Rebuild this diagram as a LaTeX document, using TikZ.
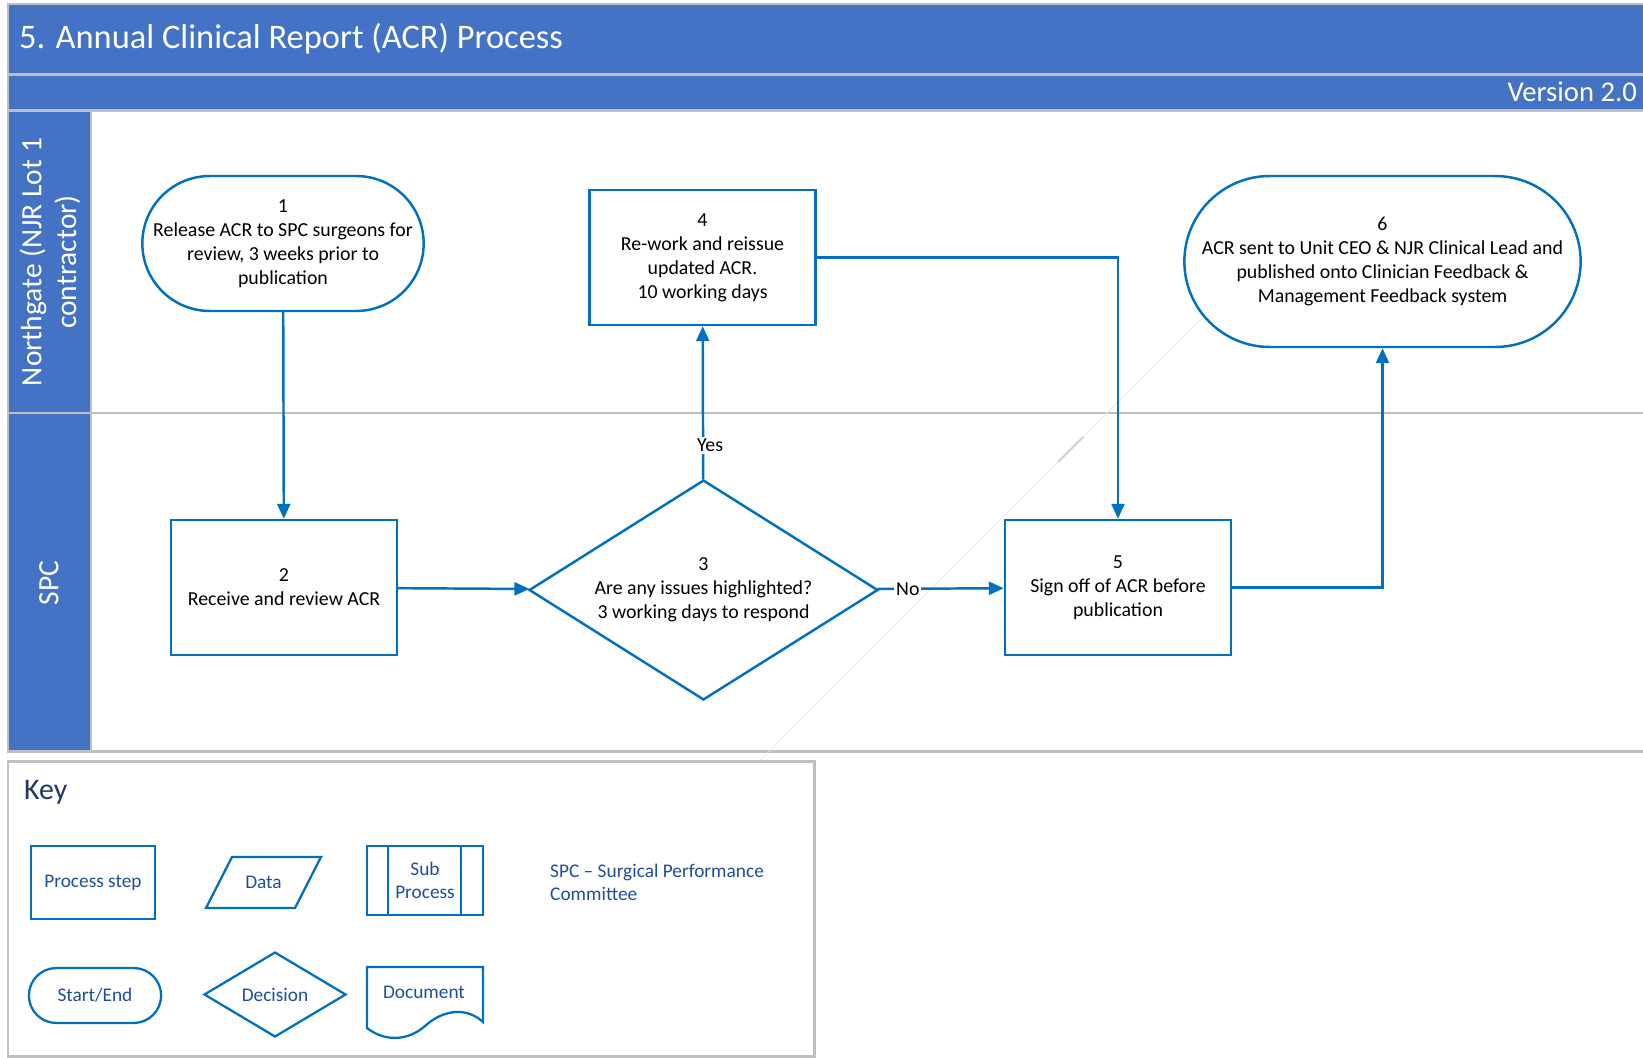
\documentclass[tikz,border=0pt]{standalone}
\usepackage{fontspec}
\setmainfont{Carlito}
\usepackage{tikz}
\usetikzlibrary{arrows.meta,shapes,positioning}
\definecolor{hdr}{RGB}{68,114,196}
\definecolor{flow}{RGB}{0,112,192}
\definecolor{grid}{RGB}{191,191,191}
\definecolor{keyblue}{RGB}{31,78,154}
\definecolor{keynavy}{RGB}{31,56,100}

\begin{document}
\begin{tikzpicture}[x=0.02cm,y=-0.02cm,
box/.style={draw=flow,line width=1.4pt,fill=white,align=center,font=\fontsize{11.3}{13.6}\selectfont,inner sep=2pt},
proc/.style={box,rectangle,minimum width=4.52cm,minimum height=2.7cm},
term/.style={box,rounded rectangle},
dec/.style={box,diamond,shape aspect=1.6,minimum width=6.98cm,minimum height=4.4cm,inner sep=0pt},
flowline/.style={draw=flow,line width=1.4pt,-{Triangle[length=0.3cm,width=0.26cm]}},
lbl/.style={fill=white,inner sep=1pt,font=\fontsize{11.3}{13.6}\selectfont},
lane/.style={draw=grid,line width=1.7pt},
lanetxt/.style={rotate=90,text=white,align=center,font=\fontsize{16.8}{19.8}\selectfont},
keyshape/.style={draw=flow,line width=1.3pt},
keytxt/.style={text=keyblue,align=center,font=\fontsize{11}{13.2}\selectfont}]
\useasboundingbox(0,0)rectangle(1643,1058);
\clip(0,0)rectangle(1643,1058);
\fill[white](0,0)rectangle(1643,1058);
\filldraw[fill=hdr,lane](8,4)rectangle(1650,74);
\filldraw[fill=hdr,lane](8,75)rectangle(1650,110);
\filldraw[fill=hdr,lane](8,111)rectangle(91,751);
\draw[lane](91,111)--(1650,111)
(8,413)--(1650,413)
(8,751)--(1650,751);
\draw[lane](8,761)rectangle(814,1056);
\draw[gray!18,line width=0.4pt](1200,320)--(760,760);
\draw[gray!35,line width=1.2pt](1058,462)--(1083,437);
\node[anchor=west,text=white,font=\fontsize{19.6}{23}\selectfont](title)at(13,39){5. Annual Clinical Report (ACR) Process};
\node[anchor=east,text=white,font=\fontsize{16.3}{18}\selectfont](version)at(1643,92){Version 2.0};
\node[lanetxt](lane1)at(50,262){Northgate (NJR Lot 1\\contractor)};
\node[lanetxt](lane2)at(49,583){SPC};
\node[term,inner xsep=-3pt,minimum width=5.6cm,minimum height=2.7cm](step1)at(283,243.5){1\\Release ACR to SPC surgeons for\\review, 3 weeks prior to\\publication};
\node[proc](step2)at(284,587.5){2\\Receive and review ACR};
\node[dec](step3)at(703.5,590){3\\Are any issues highlighted?\\3 working days to respond};
\node[proc](step4)at(702.5,257.5){4\\Re-work and reissue\\updated ACR.\\10 working days};
\node[proc](step5)at(1118,587.5){5\\Sign off of ACR before\\publication};
\node[term,inner xsep=3pt,minimum height=3.42cm](step6)at(1382.5,261.5){6\\ACR sent to Unit CEO \& NJR Clinical Lead and\\published onto Clinician Feedback \&\\Management Feedback system};
\draw[flowline](step1)--(step2);
\draw[flowline](step2)--(step3);
\draw[flowline](step3)--node[lbl,pos=0.22,xshift=0.14cm]{Yes}(step4);
\draw[flowline](step4.east)-|(step5.north);
\draw[flowline](step3)--node[lbl,pos=0.24]{No}(step5);
\draw[flowline](step5.east)-|(step6.south);
\node[anchor=west,text=keynavy,font=\fontsize{17}{20}\selectfont](key)at(18,792){Key};
\node[keyshape,keytxt,minimum width=2.48cm,minimum height=1.46cm](kproc)at(93,882.5){Process step};
\draw[keyshape](232,857)--(321,857)--(295,908)--(206,908)--cycle;
\node[keytxt](kdata)at(263.5,882.5){Data};
\draw[keyshape](367,846)rectangle(483,915)
(388,846)--(388,915)
(461,846)--(461,915);
\node[keytxt](ksub)at(425,880.5){Sub\\Process};
\node[keytxt,anchor=west,align=left](kspc)at(544,882.5){SPC -- Surgical Performance\\Committee};
\node[keyshape,keytxt,rounded rectangle,minimum width=2.88cm,minimum height=1.1cm](kstart)at(95,995.5){Start/End};
\node[keyshape,keytxt,diamond,minimum width=2.84cm,minimum height=1.7cm,inner sep=0pt](kdec)at(275,994.5){Decision};
\draw[keyshape](367,967)--(483,967)--(483,1022)
.. controls (468,1008) and (445,1008) .. (425,1026)
.. controls (408,1041) and (385,1042) .. (367,1028)--cycle;
\node[keytxt](kdoc)at(424,992){Document};
\end{tikzpicture}
\end{document}
